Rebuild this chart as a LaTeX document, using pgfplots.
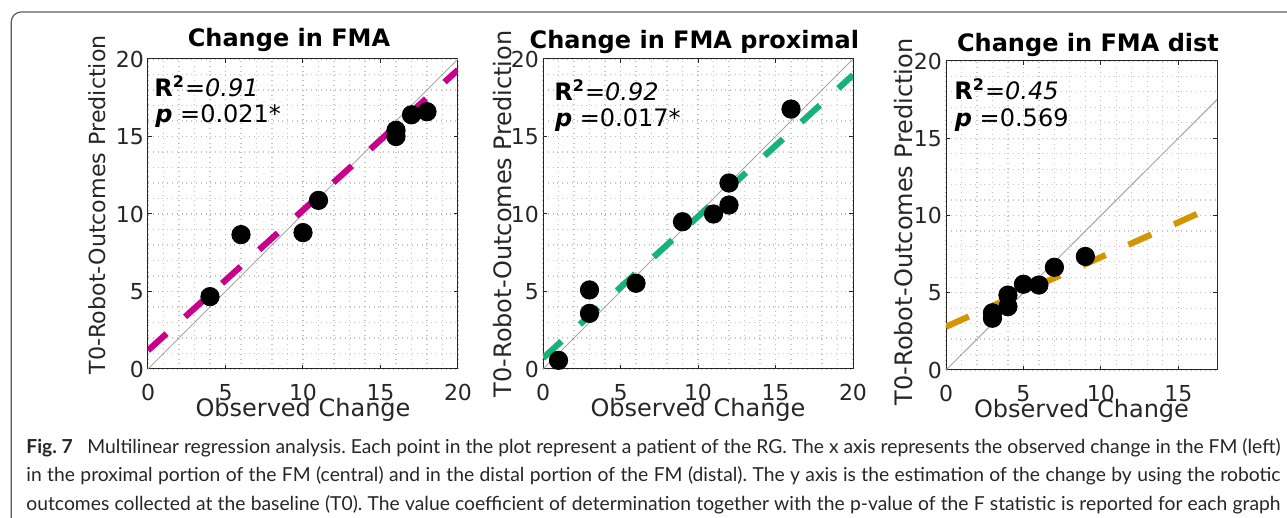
\documentclass[border=0pt]{standalone}
\usepackage{fontspec}
\setmainfont{DejaVu Sans}
\newfontfamily\capfont{Lato}
\usepackage{pgfplots}
\pgfplotsset{compat=1.18}
\definecolor{mag}{RGB}{200,0,140}
\definecolor{grn}{RGB}{22,178,122}
\definecolor{org}{RGB}{212,150,0}
\definecolor{axgray}{RGB}{38,38,38}
\definecolor{capgray}{RGB}{90,90,90}
\pgfplotsset{
  panel/.style={
    scale only axis, width=155pt, height=155pt,
    xmin=0, xmax=20, ymin=0, ymax=20,
    xtick={0,5,...,20}, ytick={0,5,...,20},
    minor tick num=4, minor tick length=0pt, major tick length=2pt,
    tick align=inside,
    grid=both,
    major grid style={dotted, line width=0.6pt, gray!55},
    minor grid style={dotted, line width=0.6pt, gray!45},
    axis line style={axgray, line width=0.5pt},
    tick style={axgray, line width=0.5pt},
    /pgf/number format/assume math mode=true,
    ticklabel style={font=\fontsize{11}{12}\selectfont, text=axgray},
    xticklabel style={anchor=base, yshift=-16pt},
    yticklabel style={xshift=1.5pt},
    label style={font=\fontsize{12}{13}\selectfont, text=axgray},
    xlabel style={at={(axis description cs:0.5,0)}, anchor=base, yshift=-24pt},
    clip=true,
  },
  diag/.style={gray!70, line width=0.5pt, forget plot},
  reg/.style={line width=3.1pt, dash pattern=on 12.5pt off 12.5pt},
  dots/.style={only marks, mark=*, mark size=4.6pt, black},
}
\newcommand\lineA{\textbf{Fig. 7}\hspace{0.5em} Multilinear regression analysis. Each point in the plot represent a patient of the RG. The x axis represents the observed change in the FM (left)}
\newcommand\lineB{in the proximal portion of the FM (central) and in the distal portion of the FM (distal). The y axis is the estimation of the change by using the robotic}
\newcommand\lineC{outcomes collected at the baseline (T0). The value coefficient of determination together with the p-value of the F statistic is reported for each graph}
\newlength\capw
\begin{document}%
\settowidth\capw{\capfont\fontsize{10}{12}\selectfont\frenchspacing\lineA}%
\pgfmathsetmacro\capsize{10*627/\capw}%
\begin{tikzpicture}
% caption frame
\draw[capgray, line width=0.6pt, rounded corners=5pt] (5.6pt,-6pt) rectangle (660pt,-275pt);

% ---------- panel 1 ----------
\begin{axis}[panel, at={(74pt,-184.5pt)}, anchor=south west,
  xlabel={Observed Change},
  ylabel={T0-Robot-Outcomes Prediction},
  ylabel style={at={(axis description cs:-0.1355,0.53)}, anchor=base, font=\fontsize{11.1}{12}\selectfont}]
\addplot[diag] coordinates {(0,0) (20,20)};
\addplot[reg, mag] coordinates {(0,1.2) (20,19.3)};
\addplot[dots] coordinates {(4,4.67) (6,8.67) (10,8.8) (11,10.88) (16,15.4) (16,15.0) (17,16.4) (18,16.6)};
\node[anchor=base west, inner sep=0pt, font=\fontsize{12}{13}\selectfont] at (axis cs:0.39,17.57) {\textbf{R\textsuperscript{2}}\textit{=0.91}};
\node[anchor=base west, inner sep=0pt, font=\fontsize{12}{13}\selectfont] at (axis cs:0.45,15.89) {\textbf{\textit{p}} =0.021*};
\end{axis}

% ---------- panel 2 ----------
\begin{axis}[panel, at={(271.5pt,-184.5pt)}, anchor=south west,
  xlabel={Observed Change},
  ylabel={T0-Robot-Outcomes Prediction},
  ylabel style={at={(axis description cs:-0.1032,0.5)}, anchor=base}]
\addplot[diag] coordinates {(0,0) (20,20)};
\addplot[reg, grn] coordinates {(0,0.7) (20,18.97)};
\addplot[dots] coordinates {(1,0.56) (3,5.1) (3,3.59) (6,5.53) (9,9.5) (11,10.0) (12,10.58) (12,12.0) (16,16.77)};
\node[anchor=base west, inner sep=0pt, font=\fontsize{12}{13}\selectfont] at (axis cs:0.71,17.35) {\textbf{R\textsuperscript{2}}\textit{=0.92}};
\node[anchor=base west, inner sep=0pt, font=\fontsize{12}{13}\selectfont] at (axis cs:0.75,15.63) {\textbf{\textit{p}} =0.017*};
\end{axis}

% ---------- panel 3 ----------
\begin{axis}[panel, at={(473pt,-185pt)}, anchor=south west, width=135.5pt, height=154.5pt,
  xmax=17.5, xtick={0,5,10,15},
  xlabel={Observed Change},
  ylabel={T0-Robot-Outcomes Prediction},
  ylabel style={at={(axis description cs:-0.1218,0.479)}, anchor=base}]
\addplot[diag] coordinates {(0,0) (17.5,17.5)};
\addplot[reg, org] coordinates {(0,2.8) (17.5,10.68)};
\addplot[dots] coordinates {(3,3.35) (3,3.7) (4,4.1) (4,4.85) (5,5.55) (6,5.5) (7,6.65) (9,7.35)};
\node[anchor=base west, inner sep=0pt, font=\fontsize{12}{13}\selectfont] at (axis cs:0.52,17.54) {\textbf{R\textsuperscript{2}}\textit{=0.45}};
\node[anchor=base west, inner sep=0pt, font=\fontsize{12}{13}\selectfont] at (axis cs:0.55,15.79) {\textbf{\textit{p}} =0.569};
\end{axis}

% ---------- titles ----------
\begin{scope}[every node/.style={anchor=base, inner sep=0pt, font=\bfseries\fontsize{12}{13}\selectfont}]
\node at (144.5pt,-23.3pt) {Change in FMA};
\node at (347.2pt,-24.5pt) {Change in FMA proximal};
\node at (544pt,-26pt) {Change in FMA dist};
\end{scope}

% ---------- caption ----------
\begin{scope}[every node/.style={anchor=base west, inner sep=0pt, font=\capfont\fontsize{\capsize}{10}\selectfont\frenchspacing, text=black!85}]
\node at (13pt,-227pt) {\makebox[627pt][s]{\lineA}};
\node at (13pt,-241pt) {\makebox[627pt][s]{\lineB}};
\node at (13pt,-255pt) {\makebox[627pt][s]{\lineC}};
\end{scope}
\pgfresetboundingbox
\path[use as bounding box] (0,0) rectangle (643.5pt,-259pt);
\end{tikzpicture}%
\end{document}
